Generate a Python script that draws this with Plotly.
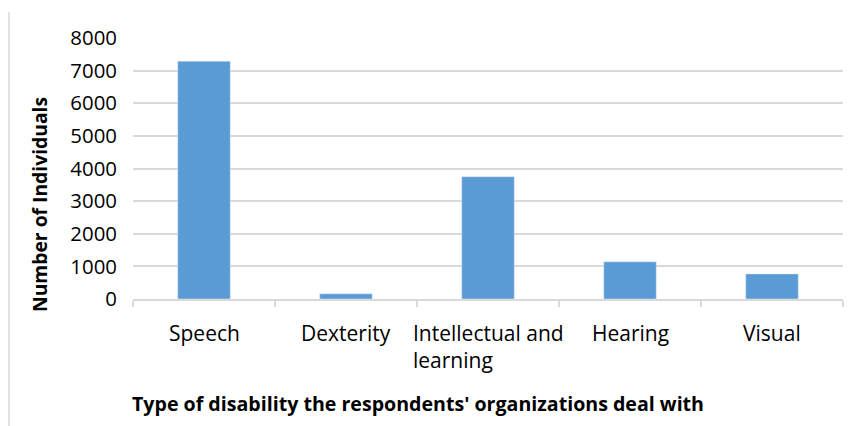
import plotly.graph_objects as go

categories = ["Speech", "Dexterity", "Intellectual and<br>learning", "Hearing", "Visual"]
individuals = [7290, 160, 3750, 1140, 770]
y_ticks = [0, 1000, 2000, 3000, 4000, 5000, 6000, 7000, 8000]

font_main = "Open Sans"
grid_col = "#d9d9d9"

# page body adds an 8px offset, so the figure is built 8px smaller
W, H = 849, 418
L, R, T, B = 125, 14, 30, 127
pw, ph = W - L - R, H - T - B

fig = go.Figure()
fig.add_trace(go.Bar(x=categories, y=individuals, marker_color="#5b9bd5", width=0.37))

# category labels as annotations so wrapped text is left aligned like the original
for cat in categories:
    fig.add_annotation(x=cat, xref="x", y=0, yref="y", yshift=-18, yanchor="top",
                       text=cat, showarrow=False, align="left",
                       font=dict(family=font_main, size=21, color="#000"))

fig.update_layout(
    width=W, height=H,
    margin=dict(l=L, r=R, t=T, b=B),
    plot_bgcolor="white", paper_bgcolor="white",
    showlegend=False,
    font=dict(family=font_main, size=20, color="#000"),
    annotations=list(fig.layout.annotations) + [
        dict(text="<b>Type of disability the respondents' organizations deal with</b>",
             xref="paper", yref="paper", x=(418 - 133) / pw, y=-104 / ph,
             showarrow=False, xanchor="center", yanchor="middle",
             font=dict(family=font_main, size=19.6, color="#000")),
        dict(text="<b>Number of Individuals</b>", textangle=-90,
             xref="paper", yref="paper", x=(39 - 133) / pw, y=(299 - 205) / ph,
             showarrow=False, xanchor="center", yanchor="middle",
             font=dict(family=font_main, size=19.3, color="#000")),
    ],
    shapes=[dict(type="line", xref="paper", yref="paper",
                 x0=(9 - 133) / pw, x1=(9 - 133) / pw, y0=(299 - 12) / ph, y1=-127 / ph,
                 line=dict(color=grid_col, width=1.5))],
)
fig.update_xaxes(showticklabels=False, ticks="outside", tickson="boundaries",
                 ticklen=6, tickcolor=grid_col, tickwidth=1.5,
                 showline=True, linecolor=grid_col, linewidth=1.5, showgrid=False)
fig.update_yaxes(range=[0, 8000], tickvals=y_ticks, showgrid=True, gridcolor=grid_col,
                 gridwidth=1.5, zeroline=False, ticks="", ticklabelstandoff=15,
                 tickfont=dict(family=font_main, size=20.4, color="#000"))

fig.write_html("out.html")
